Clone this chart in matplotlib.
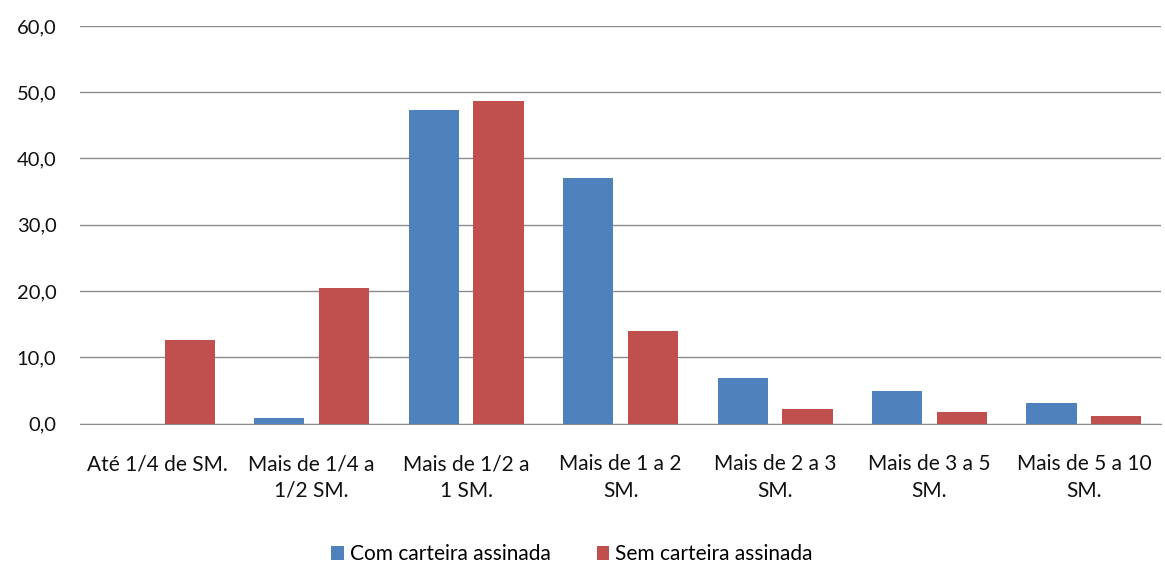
import matplotlib.pyplot as plt
import numpy as np

plt.rcParams['font.family'] = ['Lato', 'DejaVu Sans']

categories = ['Até 1/4 de SM.', 'Mais de 1/4 a\n1/2 SM.', 'Mais de 1/2 a\n1 SM.',
              'Mais de 1 a 2\nSM.', 'Mais de 2 a 3\nSM.', 'Mais de 3 a 5\nSM.',
              'Mais de 5 a 10\nSM.']
com_carteira = [0.0, 0.8, 47.3, 37.1, 6.9, 4.9, 3.1]
sem_carteira = [12.6, 20.4, 48.6, 13.9, 2.2, 1.7, 1.1]
yticks = [0, 10, 20, 30, 40, 50, 60]

fig = plt.figure(figsize=(11.65, 5.64), dpi=100)
ax = fig.add_axes([0.0687, 0.249, 0.928, 0.705])

x = np.arange(len(categories))
width = 0.325
off = 0.21
ax.bar(x - off, com_carteira, width, color='#4F81BD', label='Com carteira assinada', zorder=3)
ax.bar(x + off, sem_carteira, width, color='#C0504D', label='Sem carteira assinada', zorder=3)

ax.set_xlim(-0.5, len(categories) - 0.5)
ax.set_ylim(0, 60)
ax.set_yticks(yticks, [f'{v:.1f}'.replace('.', ',') for v in yticks], fontsize=14.5, color='#111111')
ax.set_xticks(x, categories, fontsize=15, color='#111111', linespacing=1.4)
ax.tick_params(axis='both', length=0)
ax.tick_params(axis='y', pad=17)
ax.tick_params(axis='x', pad=22)
ax.grid(axis='y', color='#8C8C8C', linewidth=1, zorder=0)
for s in ['top', 'right', 'left']:
    ax.spines[s].set_visible(False)
ax.spines['bottom'].set_color('#8C8C8C')

fig.legend(loc='center', bbox_to_anchor=(0.491, 0.017), ncol=2, frameon=False,
           fontsize=15, handlelength=0.6, handleheight=0.6, handletextpad=0.3,
           columnspacing=2.2)

fig.savefig('out.png', dpi=100)
